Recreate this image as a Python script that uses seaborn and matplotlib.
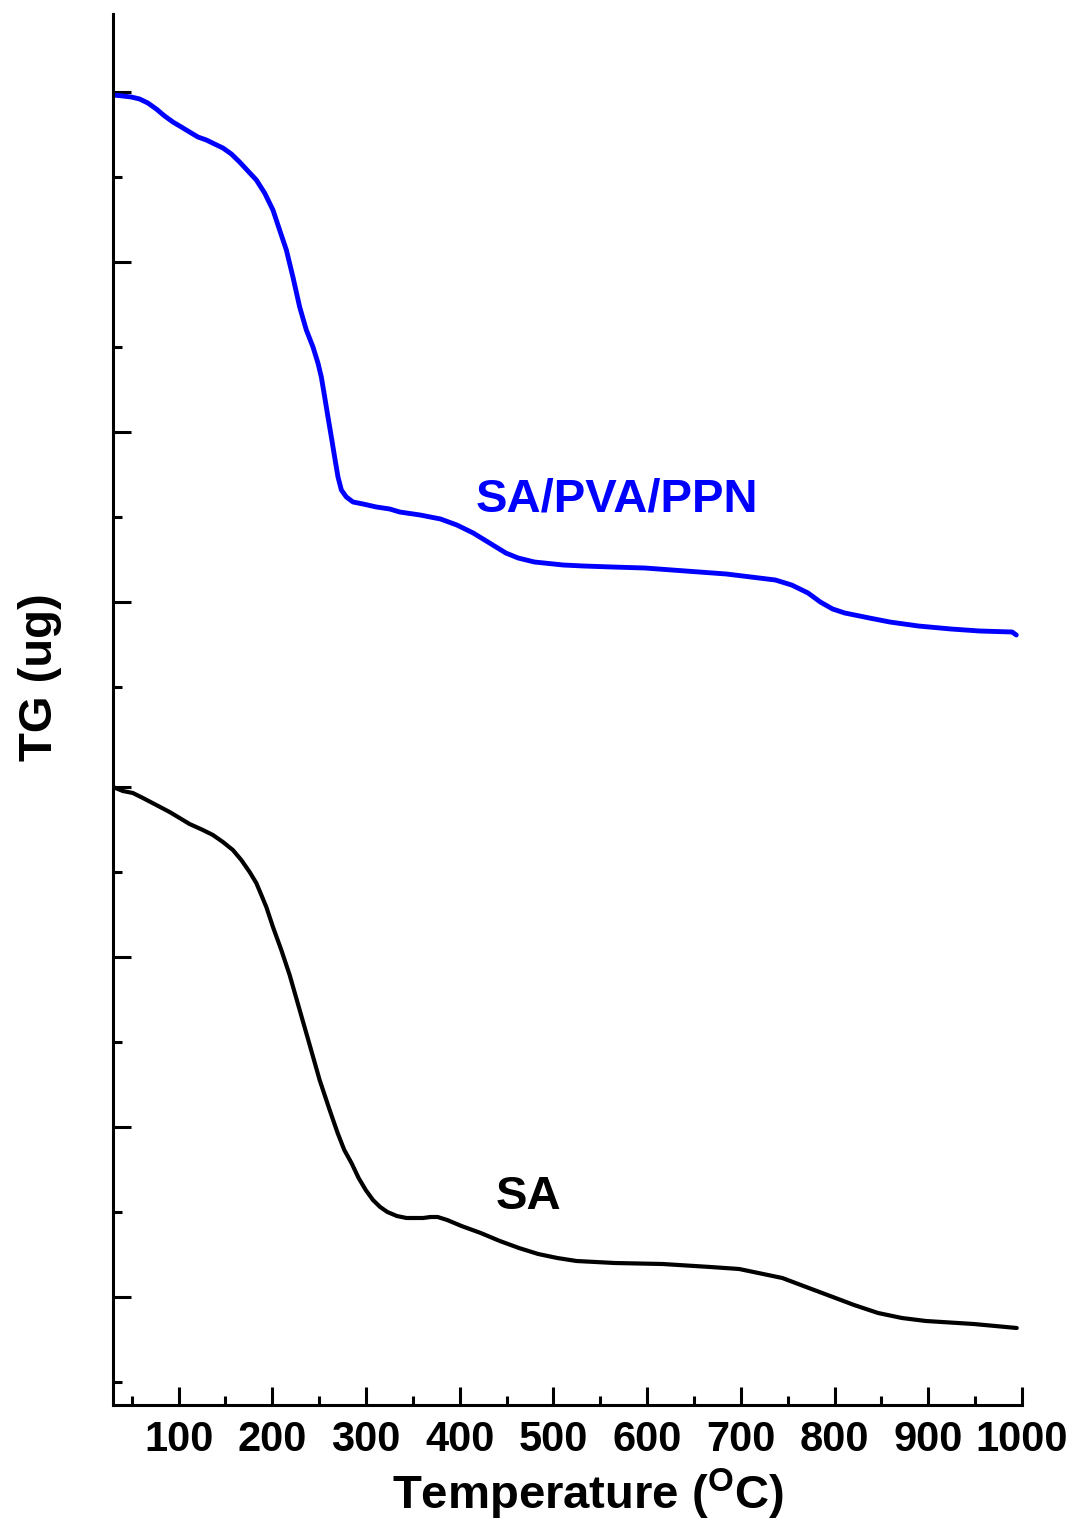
import matplotlib
matplotlib.use("Agg")
import matplotlib.pyplot as plt
import seaborn as sns
import pandas as pd

# ---- data ----
temp_blend = [30, 40.5, 49.5, 58.4, 67.2, 76.2, 85.1, 93.9, 102.9, 111.7,
              120.6, 129.6, 138.4, 147.3, 156.3, 165.1, 174.0, 183.0, 191.8, 200.7,
              207.8, 215.0, 222.0, 229.2, 236.3, 243.4, 248.7, 252.3, 255.9, 259.4,
              263.0, 266.5, 270.1, 273.7, 279.0, 286.1, 296.8, 311.1, 325.3, 335.9,
              357.7, 379.5, 396.9, 414.4, 431.8, 449.2, 462.3, 479.7, 510.3, 532.1,
              562.5, 597.4, 641.0, 684.5, 710.7, 736.8, 754.2, 771.7, 784.8, 797.9,
              810.9, 837.1, 858.9, 889.4, 924.2, 954.7, 989.5, 993.9]
tg_blend = [1310, 1309, 1308, 1306, 1302, 1296, 1289, 1283, 1278, 1273,
            1268, 1265, 1261, 1257, 1251, 1243, 1234, 1225, 1212, 1195,
            1175, 1155, 1128, 1098, 1075, 1058, 1042, 1028, 1008, 988,
            968, 948, 928, 915, 908, 903, 901, 898, 896, 893,
            890, 886, 880, 872, 862, 852, 847, 843, 840, 839,
            838, 837, 834, 831, 828, 825, 820, 812, 803, 796,
            792, 787, 783, 779, 776, 774, 773, 770]

temp_sa = [30, 40.5, 51.2, 61.9, 76.2, 90.4, 101.1, 111.7, 125.9, 136.6,
           147.3, 157.9, 166.9, 175.8, 182.9, 188.3, 193.6, 200.7, 209.6, 218.5,
           229.2, 239.9, 250.5, 261.2, 269.7, 276.8, 284.5, 292.1, 299.7, 307.4,
           315.1, 322.8, 332.9, 343.2, 361.0, 368.7, 376.4, 386.6, 401.9, 422.4,
           442.8, 463.2, 483.7, 504.1, 524.6, 565.4, 616.5, 667.5, 698.2, 718.7,
           744.2, 769.7, 795.3, 820.8, 846.4, 871.9, 897.5, 948.5, 994.4]
tg_sa = [618, 614, 612, 607, 600, 593, 587, 581, 575, 570,
         563, 555, 545, 533, 522, 510, 498, 478, 455, 430,
         395, 360, 325, 295, 272, 255, 242, 227, 215, 205,
         198, 193, 189, 187, 187, 188, 188, 185, 179, 172,
         164, 157, 151, 147, 144, 142, 141, 138, 136, 132,
         127, 118, 109, 100, 92, 87, 84, 81, 77]

x_major = [100, 200, 300, 400, 500, 600, 700, 800, 900, 1000]
x_minor = [50, 150, 250, 350, 450, 550, 650, 750, 850, 950]
y_major = [1313, 1143, 973, 803, 618, 448, 278, 108]
y_minor = [1228, 1058, 888, 718, 533, 363, 193, 23]

label_blend = "SA/PVA/PPN"
label_sa = "SA"

# ---- style ----
sns.set_theme(style="ticks")
plt.rcParams["font.family"] = ["Liberation Sans", "DejaVu Sans"]
plt.rcParams["font.weight"] = "bold"
plt.rcParams["text.color"] = "black"
plt.rcParams["axes.labelcolor"] = "black"
plt.rcParams["xtick.color"] = "black"
plt.rcParams["ytick.color"] = "black"
plt.rcParams["mathtext.fontset"] = "custom"
plt.rcParams["mathtext.rm"] = "Liberation Sans:bold"
plt.rcParams["mathtext.bf"] = "Liberation Sans:bold"
plt.rcParams["mathtext.it"] = "Liberation Sans:bold"

fig = plt.figure(figsize=(10.75, 15.29), dpi=100)
ax = fig.add_axes([113 / 1075, 124 / 1529, 909 / 1075, 1391 / 1529])

df_blend = pd.DataFrame({"T": temp_blend, "TG": tg_blend})
df_sa = pd.DataFrame({"T": temp_sa, "TG": tg_sa})

sns.lineplot(data=df_blend, x="T", y="TG", ax=ax, color="#0000ff", lw=3.5,
             sort=False, estimator=None, solid_joinstyle="round",
             solid_capstyle="round")
sns.lineplot(data=df_sa, x="T", y="TG", ax=ax, color="black", lw=3.0,
             sort=False, estimator=None, solid_joinstyle="round",
             solid_capstyle="round")

ax.set_xlim(30, 1000)
ax.set_ylim(0, 1391)

ax.set_xticks(x_major)
ax.set_xticks(x_minor, minor=True)
ax.set_yticks(y_major)
ax.set_yticks(y_minor, minor=True)
ax.set_xticklabels([str(v) for v in x_major])
ax.tick_params(axis="both", which="major", direction="in", length=13, width=2.2,
               color="black")
ax.tick_params(axis="both", which="minor", direction="in", length=6.5, width=2.2,
               color="black")
ax.tick_params(axis="x", which="major", labelsize=30, pad=11, labelcolor="black")
ax.tick_params(axis="y", which="both", labelleft=False)
for lab in ax.get_xticklabels():
    lab.set_fontweight("bold")

sns.despine(ax=ax)
for sp in ["left", "bottom"]:
    ax.spines[sp].set_linewidth(2.2)
    ax.spines[sp].set_color("black")

ax.set_xlabel(r"Temperature ($^{\rm O}$C)", fontsize=34, fontweight="bold",
              color="black")
ax.xaxis.label.set_va("center")
ax.xaxis.set_label_coords(0.523, -0.064)
ax.set_ylabel("TG (ug)", fontsize=34, fontweight="bold", color="black")
ax.yaxis.label.set_va("center")
ax.yaxis.set_label_coords(-0.080, 0.523)

ax.text(568, 906, label_blend, color="#0000ff", fontsize=34, fontweight="bold",
        ha="center", va="center")
ax.text(473, 208, label_sa, color="black", fontsize=34, fontweight="bold",
        ha="center", va="center")

fig.savefig("out.png", dpi=100, facecolor="white")
